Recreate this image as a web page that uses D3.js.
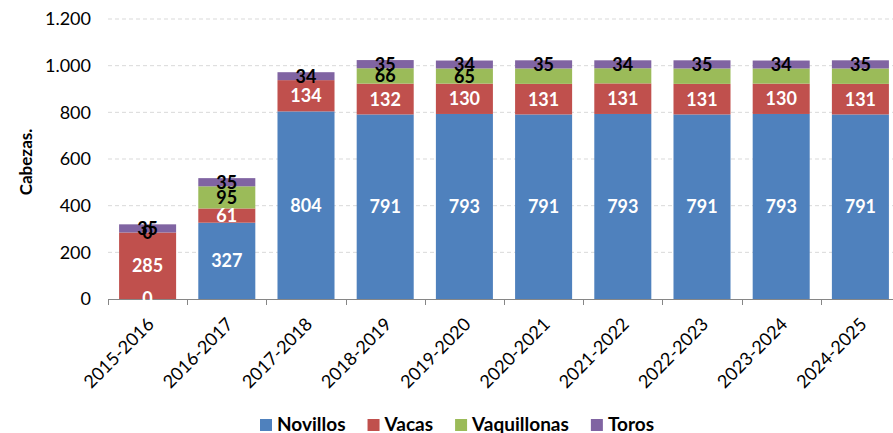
<!DOCTYPE html>
<html>
<head>
    <meta charset="UTF-8">
    <title>Cabezas por temporada</title>
    <script src="https://d3js.org/d3.v7.min.js"></script>
    <style>
        body { margin: 0; padding: 0; background: #fff; }
        svg { display: block; }
        text { font-family: Lato, "Open Sans", sans-serif; }
    </style>
</head>
<body>
    <svg width="893" height="433"></svg>

    <script>
        // Datos
        const temporadas = ["2015-2016", "2016-2017", "2017-2018", "2018-2019", "2019-2020",
                            "2020-2021", "2021-2022", "2022-2023", "2023-2024", "2024-2025"];
        const novillos    = [0, 327, 804, 791, 793, 791, 793, 791, 793, 791];
        const vacas       = [285, 61, 134, 132, 130, 131, 131, 131, 130, 131];
        const vaquillonas = [0, 95, 0, 66, 65, 66, 65, 66, 65, 66];
        const toros       = [35, 35, 34, 35, 34, 35, 34, 35, 34, 35];
        // etiquetas visibles de vaquillonas (las demas fueron borradas en el original)
        const vaqEtiqueta = [true, true, false, true, true, false, false, false, false, false];
        const yTicks = [0, 200, 400, 600, 800, 1000, 1200];

        const series = [
            {name: "Novillos",    values: novillos,    color: "#4F81BD", txt: "#fff"},
            {name: "Vacas",       values: vacas,       color: "#C0504D", txt: "#fff"},
            {name: "Vaquillonas", values: vaquillonas, color: "#9BBB59", txt: "#000", show: vaqEtiqueta},
            {name: "Toros",       values: toros,       color: "#8064A2", txt: "#000"}
        ];

        const svg = d3.select("svg");

        const x = d3.scaleBand()
            .domain(temporadas)
            .range([108, 900])
            .paddingInner(0.28)
            .paddingOuter(0.14);

        const y = d3.scaleLinear()
            .domain([0, 1200])
            .range([299, 19]);

        const fmt = d => d3.format(",")(d).replace(/,/g, ".");

        // lineas de grilla
        svg.append("g")
            .selectAll("line")
            .data(yTicks.filter(d => d > 0))
            .enter().append("line")
            .attr("x1", 108).attr("x2", 893)
            .attr("y1", d => y(d)).attr("y2", d => y(d))
            .attr("stroke", "#d9d9d9")
            .attr("stroke-dasharray", "4,3");

        // etiquetas eje Y
        svg.append("g")
            .selectAll("text")
            .data(yTicks)
            .enter().append("text")
            .attr("x", 91)
            .attr("y", d => y(d))
            .attr("dy", "0.35em")
            .attr("text-anchor", "end")
            .attr("font-size", 18)
            .attr("fill", "#000")
            .text(fmt);

        // titulo eje Y
        svg.append("text")
            .attr("transform", "translate(32,162) rotate(-90)")
            .attr("text-anchor", "middle")
            .attr("font-size", 17)
            .attr("font-weight", "bold")
            .text("Cabezas.");

        // barras apiladas
        const stackData = temporadas.map((t, i) => {
            const o = {temporada: t};
            series.forEach(s => o[s.name] = s.values[i]);
            return o;
        });
        const stacked = d3.stack().keys(series.map(s => s.name))(stackData);

        const capas = svg.append("g")
            .selectAll("g")
            .data(stacked)
            .enter().append("g")
            .attr("fill", (d, i) => series[i].color);

        capas.selectAll("rect")
            .data(d => d)
            .enter().append("rect")
            .attr("x", d => x(d.data.temporada))
            .attr("width", x.bandwidth())
            .attr("y", d => y(d[1]))
            .attr("height", d => y(d[0]) - y(d[1]));

        // eje X
        const ejeX = svg.append("g");
        ejeX.append("line")
            .attr("x1", 108).attr("x2", 900)
            .attr("y1", 299.5).attr("y2", 299.5)
            .attr("stroke", "#868686");
        ejeX.selectAll("line.tick")
            .data(d3.range(temporadas.length + 1))
            .enter().append("line")
            .attr("class", "tick")
            .attr("x1", i => Math.round(108 + i * x.step()) + 0.5)
            .attr("x2", i => Math.round(108 + i * x.step()) + 0.5)
            .attr("y1", 299).attr("y2", 305)
            .attr("stroke", "#868686");
        ejeX.selectAll("text")
            .data(temporadas)
            .enter().append("text")
            .attr("transform", d => `translate(${x(d) + x.bandwidth() / 2 + 3},${321}) rotate(-45)`)
            .attr("text-anchor", "end")
            .attr("dy", "0.35em")
            .attr("font-size", 18)
            .text(d => d);

        // etiquetas de datos
        stacked.forEach((capa, si) => {
            const s = series[si];
            svg.append("g")
                .selectAll("text")
                .data(capa.filter((d, i) => !s.show || s.show[i]))
                .enter().append("text")
                .attr("x", d => x(d.data.temporada) + x.bandwidth() / 2)
                .attr("y", d => (y(d[0]) + y(d[1])) / 2)
                .attr("dy", "0.36em")
                .attr("text-anchor", "middle")
                .attr("font-size", 18)
                .attr("font-weight", "bold")
                .attr("fill", s.txt)
                .text(d => d.data[s.name]);
        });

        // leyenda
        const leyenda = svg.append("g").attr("transform", "translate(260,424)");
        let lx = 0;
        series.forEach(s => {
            const g = leyenda.append("g").attr("transform", `translate(${lx},0)`);
            g.append("rect")
                .attr("x", 0).attr("y", -5)
                .attr("width", 12).attr("height", 12)
                .attr("fill", s.color);
            const t = g.append("text")
                .attr("x", 17)
                .attr("dy", "0.36em")
                .attr("font-size", 19)
                .attr("font-weight", "bold")
                .text(s.name);
            lx += 17 + t.node().getComputedTextLength() + 22;
        });
    </script>
</body>
</html>
